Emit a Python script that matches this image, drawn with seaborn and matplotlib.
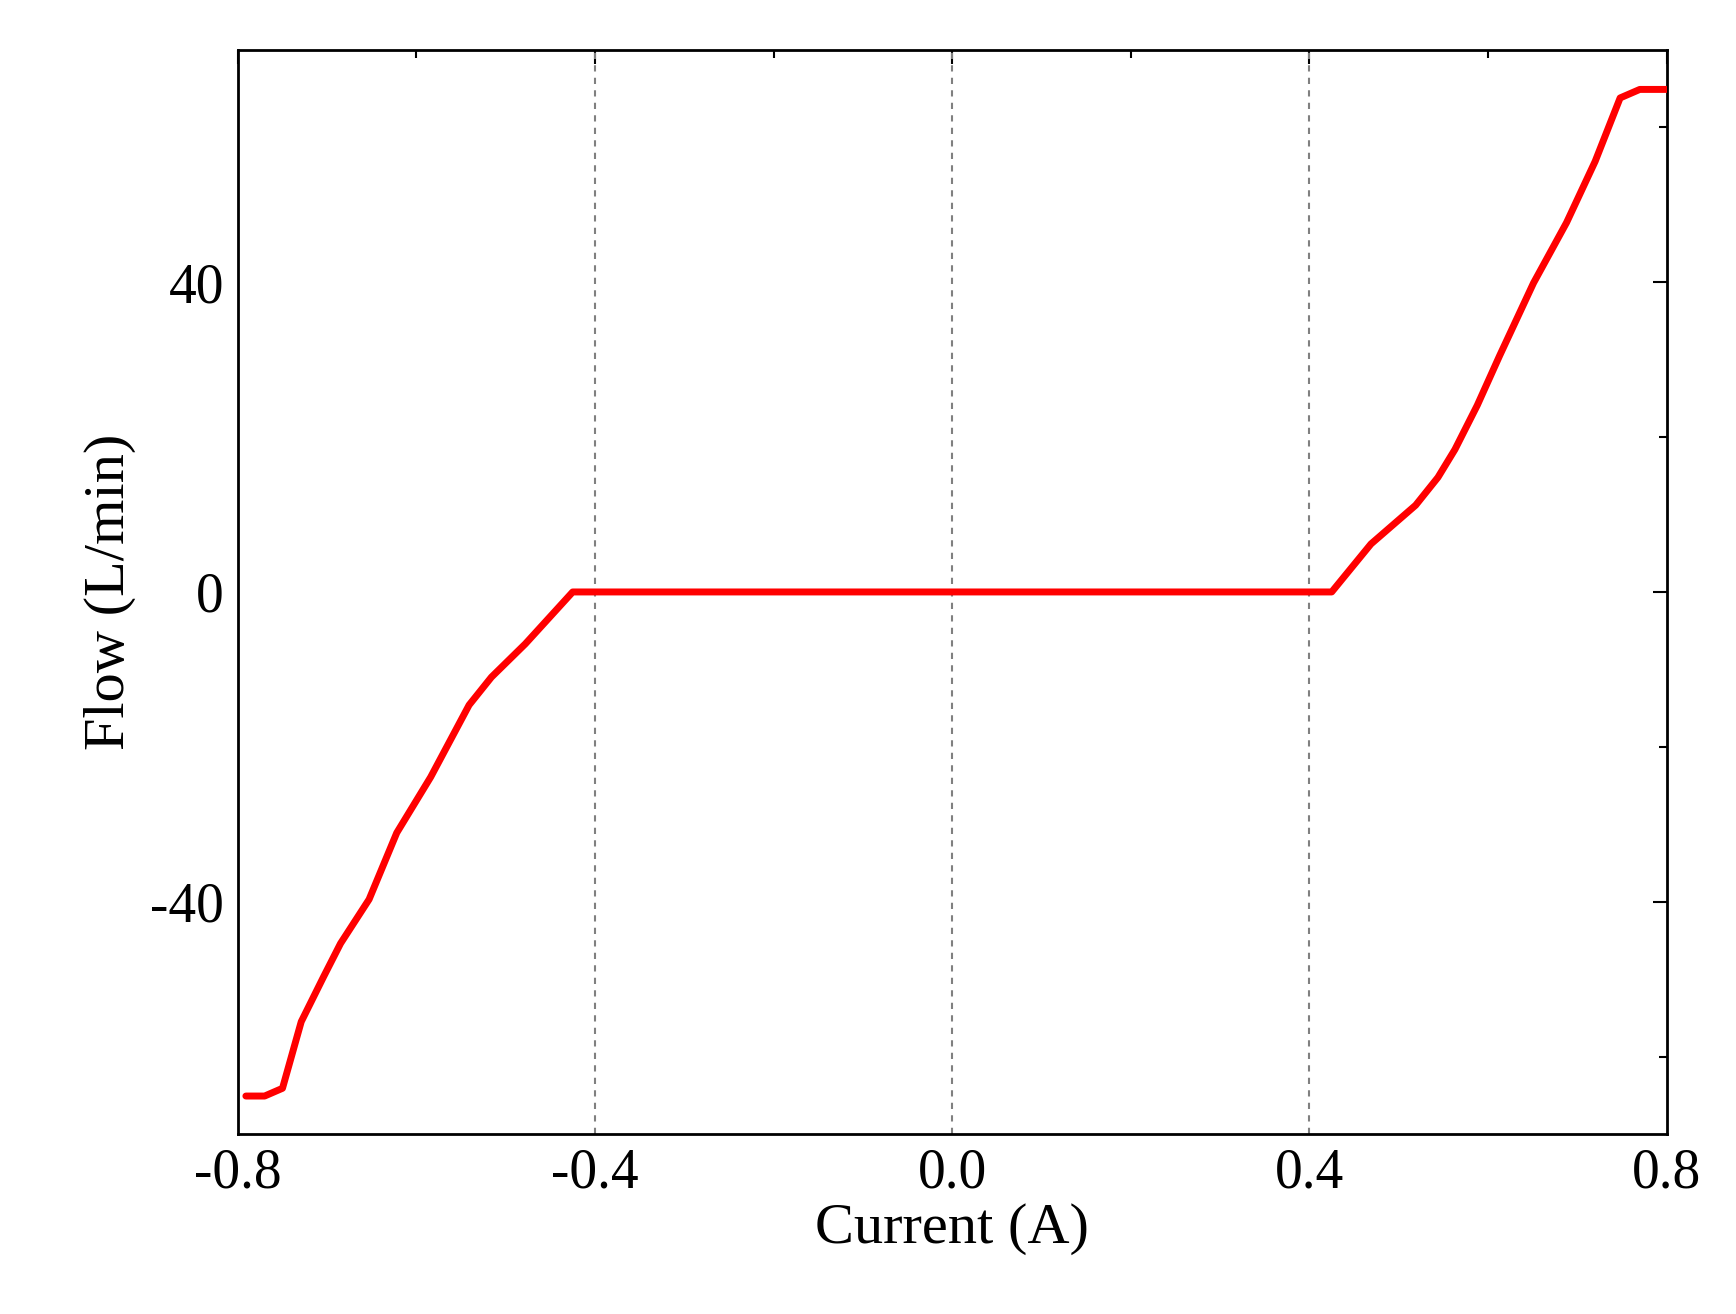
import numpy as np
import matplotlib
matplotlib.use("Agg")
import matplotlib.pyplot as plt
import seaborn as sns
from matplotlib.ticker import MultipleLocator

# data
current = [-0.791, -0.77, -0.75, -0.729, -0.704, -0.685, -0.653, -0.622, -0.584,
           -0.541, -0.516, -0.478, -0.425, 0.425, 0.469, 0.519, 0.544, 0.563,
           0.588, 0.613, 0.651, 0.688, 0.72, 0.748, 0.77, 0.8]
flow = [-65.1, -65.1, -64.1, -55.5, -49.7, -45.4, -39.7, -31.1, -23.9,
        -14.6, -11.0, -6.7, 0.0, 0.0, 6.2, 11.2, 14.8, 18.4,
        24.1, 30.5, 39.9, 47.7, 55.6, 63.8, 64.9, 64.9]
grid_x = [-0.4, 0.0, 0.4]

sns.set_theme(style="white")
plt.rcParams['font.family'] = ['Liberation Serif', 'DejaVu Serif']
plt.rcParams['axes.unicode_minus'] = False
plt.rcParams['text.color'] = 'black'
plt.rcParams['axes.labelcolor'] = 'black'
plt.rcParams['xtick.color'] = 'black'
plt.rcParams['ytick.color'] = 'black'

fig, ax = plt.subplots(figsize=(17.36, 13.14), dpi=100)
fig.subplots_adjust(left=0.137, right=0.96, top=0.962, bottom=0.137)

for gx in grid_x:
    ax.axvline(gx, color="gray", linestyle=(0, (3, 3)), linewidth=1.5, zorder=1)

sns.lineplot(x=current, y=flow, ax=ax, color="red", linewidth=5, sort=False, zorder=3)

ax.set_xlim(-0.8, 0.8)
ax.set_ylim(-70, 70)
ax.xaxis.set_major_locator(MultipleLocator(0.4))
ax.xaxis.set_minor_locator(MultipleLocator(0.2))
ax.yaxis.set_major_locator(MultipleLocator(40))
ax.yaxis.set_minor_locator(MultipleLocator(20))
ax.set_xticks([-0.8, -0.4, 0.0, 0.4, 0.8])
ax.set_xticklabels(["-0.8", "-0.4", "0.0", "0.4", "0.8"])
ax.tick_params(which="both", direction="in", top=True, right=True,
               length=10, width=1.5, labelsize=40, pad=10)
ax.tick_params(which="minor", length=6)
for s in ax.spines.values():
    s.set_linewidth(2)
    s.set_color("black")

ax.set_xlabel("Current (A)", fontsize=42, labelpad=2)
ax.set_ylabel("Flow (L/min)", fontsize=42, labelpad=10)

fig.savefig("out.png", dpi=100, facecolor="white")
